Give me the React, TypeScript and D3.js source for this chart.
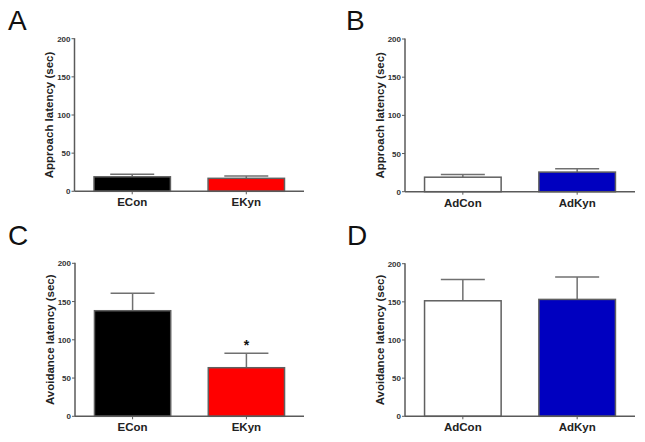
import React from "react";
import * as d3 from "d3";

const yTicks = [0, 50, 100, 150, 200];

const catsE = ["ECon", "EKyn"];
const catsAd = ["AdCon", "AdKyn"];

const approachE = [19, 17];
const approachESem = [3.5, 3];
const approachAd = [19, 25.7];
const approachAdSem = [3.5, 4.5];

const avoidE = [138, 63.5];
const avoidESem = [22.8, 18.8];
const avoidAd = [151.4, 153.2];
const avoidAdSem = [28, 29.5];

const colorsE = ["#000000", "#ff0000"];
const colorsAd = ["#ffffff", "#0000c0"];

const sigE = ["", "*"];
const sigNone = ["", ""];

type PanelProps = {
  letter: string;
  lx: number;
  ly: number;
  ax: number;
  ex: number;
  y0: number;
  y200: number;
  cats: string[];
  vals: number[];
  sems: number[];
  colors: string[];
  sig: string[];
  title: string;
};

const FONT = "'Liberation Sans', Arial, sans-serif";
const AXC = "#5a5a5a";

function Panel(p: PanelProps) {
  const x = d3
    .scaleBand<string>()
    .domain(p.cats)
    .range([p.ax, p.ex])
    .paddingInner(0.33)
    .paddingOuter(0.171);
  const y = d3.scaleLinear().domain([0, 200]).range([p.y0, p.y200]);
  const bw = x.bandwidth();
  const capW = 44;
  return (
    <g>
      <text x={p.lx} y={p.ly} fontFamily={FONT} fontSize={28} fill="#111" fontWeight={300}>
        {p.letter}
      </text>
      {p.cats.map((c, i) => {
        const cx = (x(c) as number) + bw / 2;
        const top = y(p.vals[i]);
        const et = y(p.vals[i] + p.sems[i]);
        return (
          <g key={c}>
            <line x1={cx} x2={cx} y1={top} y2={et} stroke="#707070" strokeWidth={1.5} />
            <line x1={cx - capW / 2} x2={cx + capW / 2} y1={et} y2={et} stroke="#707070" strokeWidth={1.5} />
            <rect
              x={x(c)}
              y={top}
              width={bw}
              height={p.y0 - top}
              fill={p.colors[i]}
              stroke="#606060"
              strokeWidth={1.5}
            />
            {p.sig[i] && (
              <text x={cx} y={et - 3} textAnchor="middle" fontFamily={FONT} fontWeight="bold" fontSize={14} fill="#111">
                {p.sig[i]}
              </text>
            )}
            <line x1={cx} x2={cx} y1={p.y0} y2={p.y0 + 3} stroke={AXC} strokeWidth={1} />
            <text x={cx} y={p.y0 + 15} textAnchor="middle" fontFamily={FONT} fontWeight="bold" fontSize={11.5} fill="#222">
              {c}
            </text>
          </g>
        );
      })}
      <line x1={p.ax} x2={p.ax} y1={p.y200 - 0.5} y2={p.y0} stroke={AXC} strokeWidth={1.5} />
      <line x1={p.ax} x2={p.ex} y1={p.y0} y2={p.y0} stroke={AXC} strokeWidth={1.5} />
      {yTicks.map((t) => (
        <g key={t}>
          <line x1={p.ax - 3} x2={p.ax} y1={y(t)} y2={y(t)} stroke={AXC} strokeWidth={1} />
          <text
            x={p.ax - 4}
            y={y(t) + 3}
            textAnchor="end"
            fontFamily={FONT}
            fontWeight="bold"
            fontSize={8}
            fill="#333"
          >
            {t}
          </text>
        </g>
      ))}
      <text
        transform={`translate(${p.ax - 21.5},${(p.y0 + p.y200) / 2}) rotate(-90)`}
        textAnchor="middle"
        fontFamily={FONT}
        fontWeight="bold"
        fontSize={11.5}
        fill="#222"
      >
        {p.title}
      </text>
    </g>
  );
}

export default function App() {
  return (
    <svg
      width={645}
      height={442}
      style={{ position: "absolute", left: 0, top: 0, background: "#fff" }}
    >
      <rect width={645} height={442} fill="#fff" />
      <Panel letter="A" lx={8} ly={30} ax={74.5} ex={304} y0={191.3} y200={38.7} cats={catsE}
        vals={approachE} sems={approachESem} colors={colorsE} sig={sigNone} title="Approach latency (sec)" />
      <Panel letter="B" lx={346} ly={30} ax={405} ex={635} y0={191.7} y200={39} cats={catsAd}
        vals={approachAd} sems={approachAdSem} colors={colorsAd} sig={sigNone} title="Approach latency (sec)" />
      <Panel letter="C" lx={8} ly={245} ax={75} ex={304} y0={416.3} y200={263.3} cats={catsE}
        vals={avoidE} sems={avoidESem} colors={colorsE} sig={sigE} title="Avoidance latency (sec)" />
      <Panel letter="D" lx={347} ly={245} ax={405} ex={635} y0={416.3} y200={263.7} cats={catsAd}
        vals={avoidAd} sems={avoidAdSem} colors={colorsAd} sig={sigNone} title="Avoidance latency (sec)" />
    </svg>
  );
}
